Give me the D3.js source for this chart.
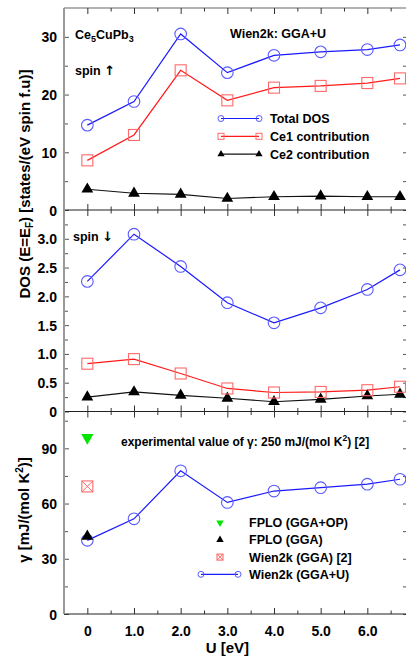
<!DOCTYPE html>
<html>
<head>
<meta charset="utf-8">
<script src="https://cdn.jsdelivr.net/npm/d3@7"></script>
<style>
  body { margin: 0; background: #fff; }
  svg text { font-family: "Liberation Sans", Arial, sans-serif; font-weight: bold; fill: #000; }
</style>
</head>
<body>
<svg id="chart" width="406" height="659"></svg>
<script>
// U values [eV]
var uVals = [0, 1, 2, 3, 4, 5, 6, 6.7];
var uTicks = [0, 1, 2, 3, 4, 5, 6];

// spin up DOS at E_F
var upTotal = [14.7, 18.8, 30.5, 23.8, 26.8, 27.4, 27.8, 28.6];
var upCe1   = [8.6, 13.0, 24.2, 19.0, 21.2, 21.5, 22.0, 22.8];
var upCe2   = [3.6, 2.9, 2.7, 2.0, 2.3, 2.4, 2.3, 2.3];

// spin down DOS at E_F
var dnTotal = [2.26, 3.08, 2.52, 1.89, 1.54, 1.80, 2.12, 2.46];
var dnCe1   = [0.83, 0.91, 0.66, 0.40, 0.33, 0.34, 0.37, 0.43];
var dnCe2   = [0.25, 0.34, 0.28, 0.23, 0.17, 0.21, 0.27, 0.30];

// Sommerfeld coefficient gamma [mJ/(mol K^2)]
var gammaU   = [40.0, 51.7, 77.8, 60.6, 66.8, 68.6, 70.5, 73.2];
var fploOP   = 95.8;
var fploGGA  = 42.2;
var wienGGA  = 69.3;

var svg = d3.select("#chart");

var left = 64, right = 407;
var x = d3.scaleLinear().domain([-0.5, 6.85]).range([left, right]);

var y1 = d3.scaleLinear().domain([0, 35]).range([210, 8]);
var y2 = d3.scaleLinear().domain([0, 3.5]).range([411.5, 210]);
var y3 = d3.scaleLinear().domain([0, 110]).range([614, 411.5]);

var blue = "#1a1aff", blueM = "#5a5aff";
var red = "#ff1a1a", redM = "#ff6a6a";

function frame(y, top, bottom, majors, minors, fmt){
	var g = svg.append("g");
	// left axis (gray)
	g.append("g")
		.attr("transform", "translate(" + left + ",0)")
		.call(d3.axisLeft(y).tickValues(minors).tickSize(-4).tickFormat(""))
		.call(function(a){ a.select(".domain").remove(); a.selectAll("line").attr("stroke", "#555"); });
	g.append("g")
		.attr("transform", "translate(" + left + ",0)")
		.call(d3.axisLeft(y).tickValues(majors).tickSize(-5).tickPadding(7).tickFormat(fmt))
		.call(function(a){
			a.select(".domain").remove();
			a.selectAll("line").attr("stroke", "#555");
			a.selectAll("text").style("font-size", "14px").attr("dy", "0.36em");
		});
	// right axis ticks
	g.append("g")
		.attr("transform", "translate(" + right + ",0)")
		.call(d3.axisRight(y).tickValues(majors.concat(minors)).tickSize(-4).tickFormat(""))
		.call(function(a){ a.select(".domain").remove(); a.selectAll("line").attr("stroke", "#555"); });
	// top and bottom ticks
	var xMin = d3.range(-0.5, 7, 0.5).filter(function(v){ return Math.abs(v - Math.round(v)) > 0.1; });
	[[top, d3.axisTop], [bottom, d3.axisBottom]].forEach(function(t){
		g.append("g")
			.attr("transform", "translate(0," + t[0] + ")")
			.call(t[1](x).tickValues(uTicks).tickSize(-6).tickFormat(""))
			.call(function(a){ a.select(".domain").remove(); a.selectAll("line").attr("stroke", "#333"); });
		g.append("g")
			.attr("transform", "translate(0," + t[0] + ")")
			.call(t[1](x).tickValues(xMin).tickSize(-3.5).tickFormat(""))
			.call(function(a){ a.select(".domain").remove(); a.selectAll("line").attr("stroke", "#333"); });
	});
	g.append("line").attr("x1", left).attr("x2", right).attr("y1", bottom).attr("y2", bottom)
		.attr("stroke", "#222").attr("stroke-width", 1.2);
	return g;
}

svg.append("line").attr("x1", left).attr("x2", right).attr("y1", 8).attr("y2", 8)
	.attr("stroke", "#999").attr("stroke-width", 1.5);

var fmtInt = d3.format("d");
var fmtDec = function(d){ return d === 0 ? "0" : d3.format(".1f")(d); };

frame(y1, 8, 210, [0, 10, 20, 30], [5, 15, 25], fmtInt);
frame(y2, 210, 411.5, [0, 0.5, 1, 1.5, 2, 2.5, 3], [0.25, 0.75, 1.25, 1.75, 2.25, 2.75, 3.25], fmtDec);
frame(y3, 411.5, 614, [0, 30, 60, 90], [15, 45, 75, 105], fmtInt);

svg.append("line").attr("x1", left).attr("x2", left).attr("y1", 8).attr("y2", 614)
	.attr("stroke", "#999").attr("stroke-width", 2);

// x tick labels
svg.append("g")
	.attr("transform", "translate(0,614)")
	.call(d3.axisBottom(x).tickValues(uTicks).tickSize(0).tickPadding(12).tickFormat(fmtDec))
	.call(function(a){ a.select(".domain").remove(); a.selectAll("text").style("font-size", "14px"); });

// series helpers
function series(y, vals, color, width){
	var line = d3.line()
		.x(function(d, i){ return x(uVals[i]); })
		.y(function(d){ return y(d); });
	svg.append("path").datum(vals)
		.attr("d", line)
		.attr("fill", "none")
		.attr("stroke", color)
		.attr("stroke-width", width || 1.2);
}
function circles(y, vals, r){
	svg.append("g").selectAll("circle").data(vals).enter().append("circle")
		.attr("cx", function(d, i){ return x(uVals[i]); })
		.attr("cy", function(d){ return y(d); })
		.attr("r", r)
		.attr("fill", "none").attr("stroke", blueM).attr("stroke-width", 1.1);
}
function squares(y, vals, s){
	svg.append("g").selectAll("rect").data(vals).enter().append("rect")
		.attr("x", function(d, i){ return x(uVals[i]) - s / 2; })
		.attr("y", function(d){ return y(d) - s / 2; })
		.attr("width", s).attr("height", s)
		.attr("fill", "none").attr("stroke", redM).attr("stroke-width", 1.1);
}
function triangles(y, vals, size){
	svg.append("g").selectAll("path").data(vals).enter().append("path")
		.attr("d", d3.symbol().type(d3.symbolTriangle).size(size))
		.attr("transform", function(d, i){ return "translate(" + x(uVals[i]) + "," + y(d) + ")"; })
		.attr("fill", "#000");
}

// panel 1: spin up
series(y1, upCe2, "#111", 1.1);
series(y1, upCe1, red);
series(y1, upTotal, blue);
triangles(y1, upCe2, 60);
squares(y1, upCe1, 11);
circles(y1, upTotal, 5.8);

// panel 2: spin down
series(y2, dnCe2, "#111", 1.1);
series(y2, dnCe1, red);
series(y2, dnTotal, blue);
triangles(y2, dnCe2, 60);
squares(y2, dnCe1, 11);
circles(y2, dnTotal, 5.8);

// panel 3: gamma
series(y3, gammaU, blue);
circles(y3, gammaU, 5.8);
svg.append("path")
	.attr("d", d3.symbol().type(d3.symbolTriangle).size(60))
	.attr("transform", "translate(" + x(0) + "," + y3(fploGGA) + ")")
	.attr("fill", "#000");
svg.append("path")
	.attr("d", d3.symbol().type(d3.symbolTriangle).size(65))
	.attr("transform", "translate(" + x(0) + "," + y3(fploOP) + ") rotate(180)")
	.attr("fill", "#00e600");
function crossBox(cx, cy, s){
	var g = svg.append("g").attr("transform", "translate(" + cx + "," + cy + ")");
	g.append("rect").attr("x", -s/2).attr("y", -s/2).attr("width", s).attr("height", s)
		.attr("fill", "none").attr("stroke", redM).attr("stroke-width", 1.1);
	g.append("path").attr("d", "M" + (-s/2) + "," + (-s/2) + "L" + (s/2) + "," + (s/2) + "M" + (s/2) + "," + (-s/2) + "L" + (-s/2) + "," + (s/2))
		.attr("stroke", redM).attr("stroke-width", 1);
}
crossBox(x(0), y3(wienGGA), 11);

// legend panel 1
var leg1 = [
	{ label: "Total DOS", type: "circle", color: blue },
	{ label: "Ce1 contribution", type: "square", color: red },
	{ label: "Ce2 contribution", type: "tri", color: "#111" }
];
leg1.forEach(function(d, i){
	var yy = 118.5 + i * 17.8;
	svg.append("line").attr("x1", 221).attr("x2", 259).attr("y1", yy).attr("y2", yy)
		.attr("stroke", d.color).attr("stroke-width", 1.2);
	[221, 259].forEach(function(xx){
		if (d.type === "circle") {
			svg.append("circle").attr("cx", xx).attr("cy", yy).attr("r", 3)
				.attr("fill", "none").attr("stroke", blueM);
		} else if (d.type === "square") {
			svg.append("rect").attr("x", xx - 3).attr("y", yy - 3).attr("width", 6).attr("height", 6)
				.attr("fill", "none").attr("stroke", redM);
		} else {
			svg.append("path").attr("d", d3.symbol().type(d3.symbolTriangle).size(22))
				.attr("transform", "translate(" + xx + "," + yy + ")").attr("fill", "#000");
		}
	});
	svg.append("text").attr("x", 270).attr("y", yy).attr("dy", "0.36em")
		.style("font-size", "12.5px").text(d.label);
});

// legend panel 3
var leg3 = ["FPLO (GGA+OP)", "FPLO (GGA)", "Wien2k (GGA) [2]", "Wien2k (GGA+U)"];
leg3.forEach(function(lab, i){
	var yy = 522.7 + i * 17.2;
	if (i === 0) {
		svg.append("path").attr("d", d3.symbol().type(d3.symbolTriangle).size(24))
			.attr("transform", "translate(220," + yy + ") rotate(180)").attr("fill", "#00e600");
	} else if (i === 1) {
		svg.append("path").attr("d", d3.symbol().type(d3.symbolTriangle).size(24))
			.attr("transform", "translate(220," + yy + ")").attr("fill", "#000");
	} else if (i === 2) {
		crossBox(220, yy, 6);
	} else {
		svg.append("line").attr("x1", 201).attr("x2", 238).attr("y1", yy).attr("y2", yy)
			.attr("stroke", blue).attr("stroke-width", 1.2);
		[201, 238].forEach(function(xx){
			svg.append("circle").attr("cx", xx).attr("cy", yy).attr("r", 3)
				.attr("fill", "none").attr("stroke", blueM);
		});
	}
	svg.append("text").attr("x", 249).attr("y", yy).attr("dy", "0.36em")
		.style("font-size", "12.5px").text(lab);
});

// annotations
var t1 = svg.append("text").attr("x", 75).attr("y", 38.5).style("font-size", "12.5px");
t1.append("tspan").text("Ce");
t1.append("tspan").attr("dy", 3).style("font-size", "9px").text("5");
t1.append("tspan").attr("dy", -3).text("CuPb");
t1.append("tspan").attr("dy", 3).style("font-size", "9px").text("3");

var su = svg.append("text").attr("x", 75).attr("y", 74.5).style("font-size", "12.5px");
su.append("tspan").text("spin ");
su.append("tspan").style("font-family", "'DejaVu Sans', sans-serif").style("font-size", "13px").text("\u2191");
svg.append("text").attr("x", 230).attr("y", 37.5).style("font-size", "12.5px").text("Wien2k: GGA+U");
var sd = svg.append("text").attr("x", 73).attr("y", 241).style("font-size", "12.5px");
sd.append("tspan").text("spin ");
sd.append("tspan").style("font-family", "'DejaVu Sans', sans-serif").style("font-size", "13px").text("\u2193");

var t2 = svg.append("text").attr("x", 121).attr("y", 446).style("font-size", "12px");
t2.append("tspan").text("experimental value of \u03b3: 250 mJ/(mol K");
t2.append("tspan").attr("dy", -5).style("font-size", "8.5px").text("2");
t2.append("tspan").attr("dy", 5).text(") [2]");

// axis titles
var yt = svg.append("text").attr("transform", "translate(30,184) rotate(-90)")
	.attr("text-anchor", "middle").style("font-size", "15px");
yt.append("tspan").text("DOS (E=E");
yt.append("tspan").attr("dy", 3).style("font-size", "10px").text("F");
yt.append("tspan").attr("dy", -3).text(") [states/(eV spin f.u)]");

var gt = svg.append("text").attr("transform", "translate(29,510) rotate(-90)")
	.attr("text-anchor", "middle").style("font-size", "15px");
gt.append("tspan").text("\u03b3 [mJ/(mol K");
gt.append("tspan").attr("dy", -6).style("font-size", "10px").text("2");
gt.append("tspan").attr("dy", 6).text(")]");

svg.append("text").attr("x", x(3)).attr("y", 653).attr("text-anchor", "middle")
	.style("font-size", "15px").text("U [eV]");
</script>
</body>
</html>
